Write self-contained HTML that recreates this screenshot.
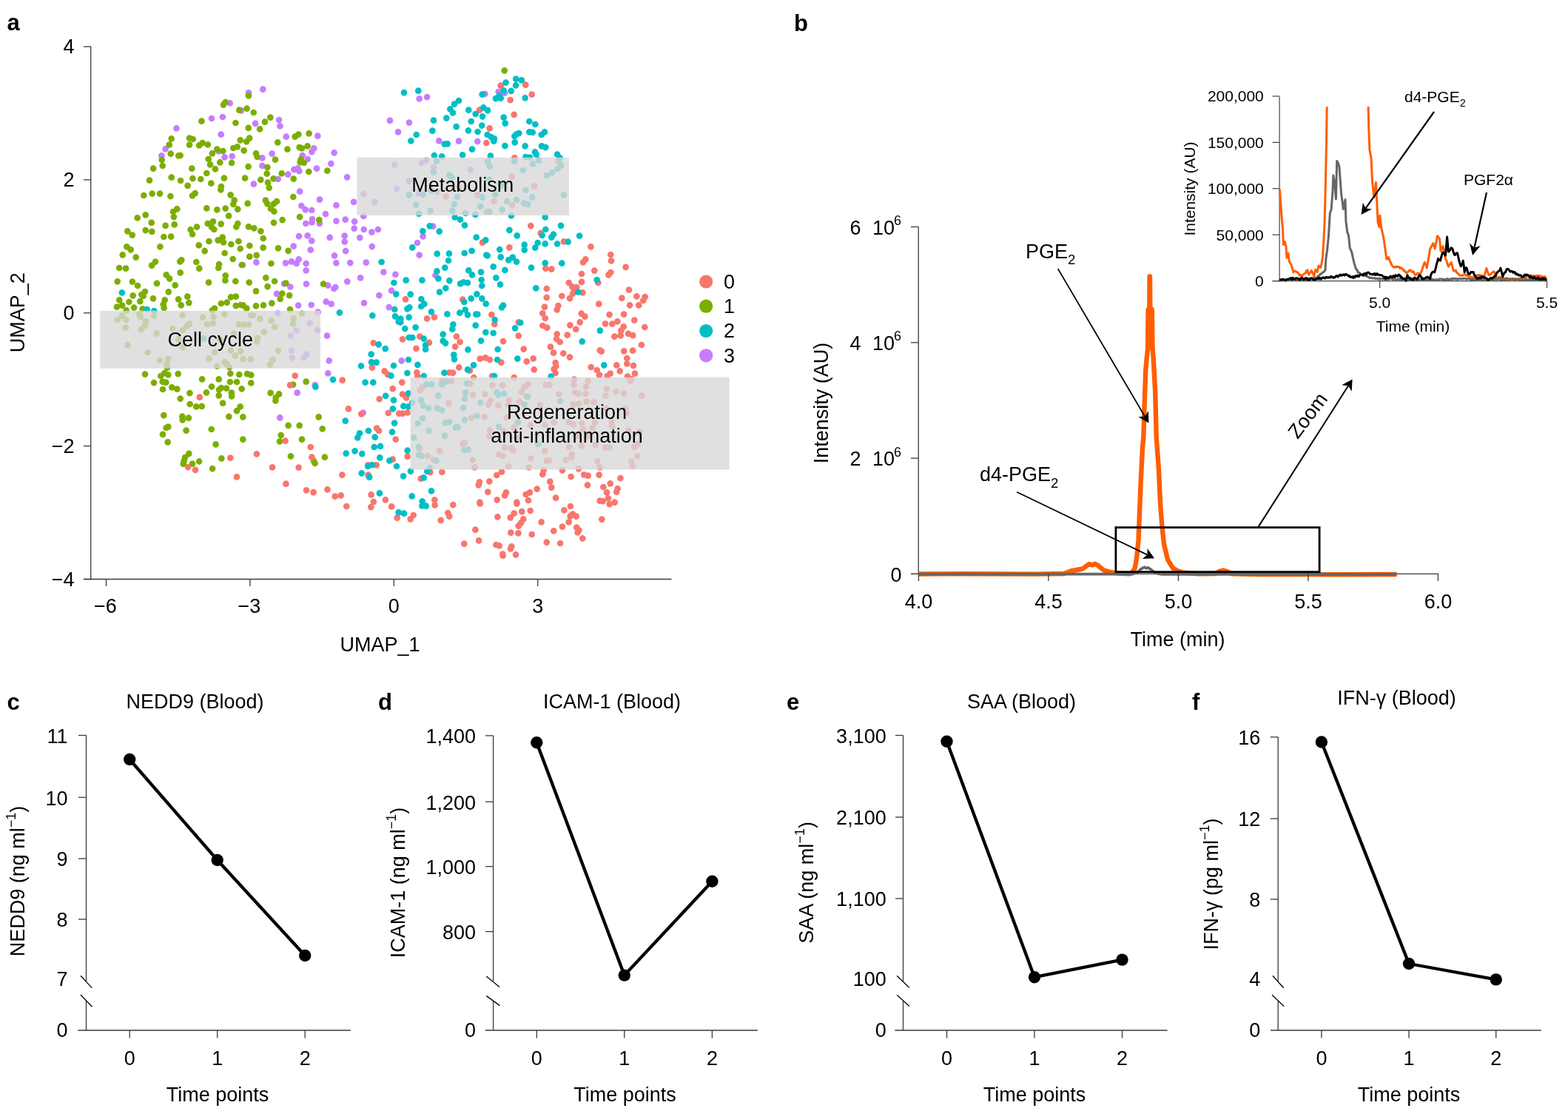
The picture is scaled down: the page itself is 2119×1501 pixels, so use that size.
<!DOCTYPE html>
<html><head><meta charset="utf-8"><title>Figure</title>
<style>html,body{margin:0;padding:0;background:#fff;} svg{display:block;}</style>
</head><body>
<svg width="2119" height="1501" viewBox="0 0 2119 1501" font-family="'Liberation Sans', Arial, Helvetica, sans-serif">
<rect x="0" y="0" width="2119" height="1501" fill="#fff"/>
<text x="9.5" y="41.0" font-size="31" text-anchor="start" font-weight="bold" fill="#000" >a</text>
<path d="M328.0 358.0h0M336.0 125.3h0M310.7 139.3h0M326.0 149.3h0M286.0 160.0h0M300.9 158.0h0M238.4 173.3h0M298.7 181.7h0M223.6 201.3h0M218.4 210.4h0M295.6 204.3h0M303.6 212.4h0M313.6 211.1h0M412.7 283.3h0M421.3 284.0h0M440.0 289.1h0M422.0 296.0h0M421.6 300.3h0M413.3 302.0h0M432.0 302.0h0M454.4 298.7h0M466.7 296.7h0M479.1 299.3h0M491.3 292.0h0M478.7 308.7h0M491.7 310.0h0M502.4 313.7h0M510.9 310.0h0M404.0 319.1h0M415.6 318.4h0M421.3 325.3h0M396.7 332.7h0M419.7 337.7h0M445.7 320.9h0M465.6 318.7h0M465.7 326.7h0M467.1 339.1h0M486.3 321.1h0M502.7 333.1h0M452.0 345.3h0M346.4 354.4h0M386.0 355.3h0M394.0 353.3h0M400.7 356.0h0M403.7 350.4h0M413.6 356.0h0M413.6 365.3h0M454.4 355.3h0M473.3 355.1h0M494.7 354.7h0M518.4 367.7h0M534.4 370.9h0M529.1 392.7h0M512.4 399.1h0M487.1 375.3h0M469.3 380.3h0M384.0 383.3h0M392.3 387.5h0M414.0 383.6h0M443.3 385.7h0M451.3 390.0h0M453.3 388.0h0M374.0 396.9h0M440.7 407.7h0M447.7 410.7h0M492.0 409.3h0M525.7 415.1h0M403.1 412.7h0M420.7 412.0h0M429.7 421.6h0M442.0 453.7h0M375.3 423.3h0M418.7 436.7h0M400.7 446.4h0M393.1 453.6h0M429.1 446.0h0M394.0 474.0h0M414.0 478.7h0M394.7 483.3h0M410.7 483.3h0M444.7 487.3h0M443.3 504.4h0M425.7 520.0h0M401.6 530.7h0M490.7 557.7h0M378.3 564.4h0M355.3 120.7h0M377.1 162.0h0M378.4 170.4h0M345.1 166.9h0M386.7 184.7h0M429.3 183.7h0M424.3 200.4h0M421.3 205.1h0M451.6 206.3h0M354.4 213.3h0M367.6 207.6h0M408.7 210.0h0M415.7 215.1h0M447.3 221.1h0M354.4 224.0h0M397.3 229.1h0M402.4 227.3h0M404.3 231.1h0M428.0 227.7h0M389.3 235.7h0M375.7 242.0h0M342.9 248.7h0M469.1 239.3h0M526.9 162.9h0M538.0 178.4h0M533.3 222.4h0M536.0 254.9h0M491.3 262.4h0M506.7 272.9h0M405.1 258.7h0M432.0 269.7h0M478.0 272.9h0M454.4 277.3h0M407.3 278.0h0M585.1 305.6h0M571.6 319.3h0M564.0 328.0h0M566.7 344.7h0M588.4 372.0h0M542.7 487.3h0M566.7 133.3h0M577.1 131.1h0M552.9 165.6h0M645.3 191.1h0M620.0 190.7h0M593.3 190.4h0M673.7 124.0h0M682.0 125.7h0M655.3 126.9h0M570.0 220.0h0M576.0 216.7h0M586.0 226.0h0M635.7 229.1h0M552.7 244.3h0M566.0 261.3h0M590.7 259.3h0" stroke="#C77CFF" stroke-width="8.7" stroke-linecap="round" fill="none"/>
<path d="M234.0 286.0h0M239.3 282.4h0M234.9 293.1h0M279.3 281.3h0M293.3 283.3h0M304.7 281.6h0M321.3 282.7h0M309.1 291.7h0M185.7 294.3h0M196.7 290.3h0M204.7 300.9h0M223.6 304.9h0M235.7 303.3h0M172.3 312.4h0M178.7 317.7h0M196.7 311.1h0M205.3 312.9h0M221.3 320.0h0M231.1 319.6h0M257.6 310.4h0M260.0 316.4h0M266.0 306.7h0M280.7 302.0h0M288.0 299.3h0M286.0 306.7h0M289.3 310.0h0M298.7 302.7h0M321.3 302.0h0M319.3 306.4h0M336.0 306.3h0M171.3 333.3h0M176.7 337.3h0M216.4 333.3h0M165.7 344.4h0M183.7 347.6h0M268.7 331.3h0M276.7 339.1h0M282.4 326.0h0M294.7 324.7h0M300.7 320.7h0M302.0 327.3h0M312.3 330.0h0M322.4 326.0h0M324.7 336.0h0M337.3 332.0h0M303.7 342.0h0M314.7 350.0h0M337.3 346.7h0M205.1 358.7h0M210.0 353.6h0M161.1 362.0h0M170.0 362.7h0M243.3 353.3h0M245.3 351.3h0M265.3 354.0h0M269.3 362.7h0M296.0 357.1h0M295.3 362.0h0M326.7 358.0h0M224.7 371.3h0M229.1 376.4h0M243.7 368.4h0M304.7 372.3h0M304.4 378.9h0M318.3 380.0h0M282.0 381.6h0M336.7 381.6h0M158.7 380.3h0M178.9 380.7h0M186.0 386.0h0M212.0 382.9h0M236.7 385.3h0M227.7 394.3h0M196.0 394.0h0M191.3 398.0h0M179.7 399.3h0M161.3 405.3h0M165.1 412.7h0M158.0 414.7h0M174.4 408.0h0M189.3 407.1h0M193.7 400.0h0M206.9 403.3h0M222.7 405.3h0M220.7 411.3h0M221.6 416.0h0M241.1 404.4h0M244.7 412.3h0M253.3 400.7h0M255.3 409.1h0M181.1 415.7h0M192.7 417.3h0M170.7 419.3h0M290.0 416.7h0M298.9 410.0h0M306.7 408.7h0M312.0 401.3h0M318.7 400.7h0M318.7 413.1h0M325.3 412.0h0M328.7 412.7h0M333.3 416.7h0M286.7 419.3h0M158.7 432.0h0M164.7 426.7h0M170.4 432.0h0M170.0 442.7h0M188.0 424.7h0M190.0 428.0h0M197.3 434.0h0M196.0 440.0h0M190.7 445.3h0M208.0 426.7h0M211.7 450.7h0M246.7 426.0h0M233.3 444.0h0M246.7 446.0h0M252.0 441.3h0M256.0 437.3h0M274.0 428.7h0M280.0 438.0h0M288.0 436.7h0M288.7 428.0h0M303.3 424.7h0M339.3 426.0h0M322.7 438.0h0M329.3 438.7h0M336.0 438.7h0M316.0 450.7h0M172.7 466.4h0M199.7 476.0h0M246.7 469.3h0M241.3 458.7h0M290.0 476.0h0M312.0 473.3h0M325.3 474.7h0M297.3 458.7h0M216.0 486.9h0M227.3 485.1h0M225.3 492.0h0M226.0 496.7h0M282.4 484.7h0M293.3 494.7h0M303.7 489.3h0M306.7 492.0h0M310.0 496.0h0M318.0 480.7h0M328.4 485.1h0M338.7 485.3h0M196.0 505.7h0M217.3 508.0h0M222.4 504.0h0M227.3 506.4h0M240.7 505.1h0M208.0 517.1h0M219.7 515.7h0M224.3 516.7h0M220.0 526.0h0M232.3 523.3h0M239.3 525.6h0M256.4 531.1h0M243.7 538.7h0M273.1 512.4h0M278.9 530.4h0M286.0 522.4h0M295.7 512.4h0M296.0 526.7h0M298.9 524.0h0M306.0 524.7h0M295.7 534.4h0M312.9 530.7h0M313.1 535.3h0M311.3 504.7h0M310.9 516.0h0M320.0 516.0h0M323.3 506.0h0M334.0 505.1h0M339.3 506.7h0M339.3 517.3h0M326.7 525.3h0M301.1 544.7h0M256.7 546.0h0M265.1 549.3h0M272.7 548.9h0M324.7 549.3h0M320.0 555.1h0M309.3 562.9h0M328.3 563.3h0M221.3 561.1h0M246.4 562.7h0M254.9 564.7h0M246.7 567.3h0M227.3 576.7h0M224.7 578.0h0M251.6 581.7h0M285.7 580.0h0M220.0 586.9h0M226.7 597.3h0M291.6 600.3h0M328.3 593.6h0M255.3 612.9h0M250.0 618.0h0M248.7 622.7h0M247.7 626.7h0M260.0 626.7h0M269.1 623.3h0M299.3 619.3h0M287.1 633.1h0M336.0 129.3h0M304.7 138.0h0M302.0 141.6h0M323.3 148.7h0M333.6 146.7h0M272.4 163.7h0M318.4 166.0h0M335.7 172.9h0M231.7 187.3h0M256.0 186.7h0M260.7 188.0h0M256.0 195.7h0M228.7 195.7h0M269.1 196.3h0M273.7 193.1h0M280.9 195.3h0M324.7 189.3h0M333.1 191.3h0M337.1 186.7h0M293.3 201.6h0M301.3 204.0h0M286.9 207.3h0M315.3 200.0h0M320.7 198.4h0M329.6 203.3h0M230.7 207.7h0M241.3 210.4h0M243.7 210.0h0M218.7 216.0h0M219.7 224.0h0M207.1 227.7h0M281.7 214.9h0M284.0 222.4h0M297.3 219.3h0M313.1 220.0h0M290.9 228.4h0M259.3 227.7h0M335.6 225.1h0M279.3 234.0h0M202.0 243.7h0M231.7 239.7h0M244.0 244.0h0M260.4 241.1h0M271.3 242.0h0M253.6 250.9h0M285.3 247.7h0M302.9 240.7h0M331.1 240.7h0M298.9 252.0h0M298.4 256.3h0M194.3 264.0h0M205.7 261.6h0M216.0 261.6h0M230.4 265.1h0M263.7 261.1h0M260.0 264.3h0M311.6 263.3h0M316.7 270.7h0M315.3 276.0h0M334.7 274.9h0M366.0 282.0h0M370.4 285.6h0M405.1 293.1h0M381.6 297.1h0M370.0 300.9h0M431.3 297.1h0M343.3 308.4h0M352.4 312.4h0M355.7 322.0h0M355.6 334.7h0M376.0 335.3h0M389.6 338.9h0M346.7 344.9h0M366.4 356.0h0M359.3 375.3h0M371.1 380.0h0M361.6 387.1h0M346.0 393.3h0M386.4 382.7h0M437.1 383.7h0M381.3 396.7h0M378.7 404.0h0M391.1 399.1h0M346.0 413.3h0M356.0 412.4h0M367.3 409.6h0M392.0 418.0h0M342.0 426.0h0M351.3 430.7h0M366.4 433.1h0M371.3 441.7h0M396.7 430.0h0M396.0 437.3h0M408.0 423.7h0M356.7 448.7h0M348.0 456.7h0M347.3 461.3h0M376.0 474.0h0M368.7 486.0h0M364.7 492.7h0M396.0 519.6h0M413.7 515.7h0M365.6 530.9h0M377.1 532.4h0M372.7 537.3h0M372.4 541.3h0M430.7 563.3h0M389.6 574.9h0M404.7 574.9h0M435.7 579.3h0M379.7 588.0h0M378.0 596.3h0M408.0 593.6h0M392.9 616.4h0M424.0 622.7h0M425.6 626.0h0M438.9 617.7h0M342.7 152.0h0M365.3 158.7h0M358.0 164.7h0M351.1 174.4h0M398.7 184.7h0M403.3 181.6h0M417.6 180.3h0M375.3 192.4h0M388.4 201.6h0M404.7 199.1h0M408.0 200.3h0M415.6 197.3h0M346.0 207.3h0M347.7 212.0h0M372.0 215.7h0M406.7 215.3h0M405.6 219.1h0M410.7 220.0h0M361.3 226.0h0M360.7 234.7h0M417.3 232.0h0M442.3 230.7h0M380.7 234.4h0M352.3 242.9h0M369.6 241.3h0M396.7 241.6h0M362.0 246.7h0M363.7 253.6h0M396.3 266.0h0M358.9 270.7h0M361.3 275.3h0M374.0 272.0h0M370.0 275.3h0M681.7 95.3h0" stroke="#7CAE00" stroke-width="8.7" stroke-linecap="round" fill="none"/>
<path d="M269.7 536.7h0M311.3 618.7h0M254.0 631.1h0M264.0 634.9h0M320.0 644.4h0M504.7 463.3h0M502.9 496.7h0M519.7 501.3h0M524.0 506.0h0M462.7 513.7h0M530.7 525.1h0M512.7 539.1h0M524.7 558.0h0M539.3 558.7h0M398.7 507.7h0M392.0 520.4h0M470.9 552.4h0M488.3 559.3h0M509.1 578.7h0M512.0 582.0h0M534.7 593.6h0M385.6 595.6h0M419.7 604.0h0M346.9 613.3h0M421.3 617.7h0M530.7 620.7h0M497.3 628.4h0M508.7 628.4h0M497.6 641.6h0M462.4 641.6h0M368.0 631.3h0M403.6 631.6h0M386.4 653.7h0M414.0 662.3h0M423.6 665.1h0M442.4 661.3h0M452.7 670.7h0M460.7 669.3h0M501.6 668.4h0M504.9 678.0h0M520.9 675.3h0M468.3 684.0h0M501.3 685.1h0M529.1 684.4h0M536.7 699.6h0M657.3 286.0h0M652.0 327.7h0M717.3 305.1h0M688.4 334.3h0M730.7 314.9h0M737.3 362.7h0M738.7 390.0h0M738.7 402.0h0M548.0 404.3h0M577.1 430.3h0M586.9 428.7h0M625.3 404.7h0M664.4 425.1h0M668.3 438.0h0M736.0 414.7h0M733.3 423.3h0M736.7 430.0h0M733.3 440.0h0M739.3 442.7h0M700.7 435.3h0M700.7 453.7h0M680.0 461.1h0M707.7 471.6h0M616.9 454.7h0M621.7 462.0h0M615.1 468.4h0M544.0 458.4h0M567.3 454.7h0M580.0 462.9h0M562.4 470.9h0M563.3 503.3h0M564.3 508.0h0M607.3 503.3h0M612.0 503.7h0M620.3 496.3h0M634.9 500.7h0M648.7 484.7h0M656.0 483.3h0M662.0 486.0h0M677.3 489.6h0M711.7 488.3h0M720.7 484.4h0M721.7 499.3h0M640.3 510.0h0M665.1 508.0h0M694.7 510.0h0M543.3 516.7h0M544.0 532.7h0M549.1 537.3h0M544.0 558.7h0M550.7 557.3h0M550.7 616.7h0M581.3 638.0h0M568.7 646.7h0M597.3 637.7h0M587.3 675.3h0M671.3 642.0h0M678.0 637.3h0M661.3 650.4h0M648.0 651.3h0M646.7 655.3h0M659.3 664.7h0M684.0 665.3h0M682.0 669.3h0M671.7 675.3h0M648.4 678.7h0M698.4 678.7h0M710.7 668.0h0M716.0 665.3h0M725.7 660.7h0M714.0 676.0h0M733.3 640.7h0M734.7 635.3h0M568.0 527.3h0M570.7 523.3h0M597.3 514.7h0M610.0 514.9h0M635.3 518.7h0M606.3 544.9h0M639.3 533.7h0M655.3 532.7h0M665.3 520.7h0M679.3 520.7h0M714.0 519.3h0M708.7 522.7h0M704.7 529.3h0M711.3 535.3h0M662.7 541.3h0M660.0 546.7h0M673.3 548.0h0M688.0 540.7h0M686.7 546.7h0M702.0 542.7h0M730.0 547.3h0M737.3 520.0h0M636.9 564.3h0M654.7 563.3h0M684.7 564.0h0M717.3 574.4h0M694.7 577.3h0M662.0 581.3h0M661.3 588.7h0M680.7 582.4h0M698.0 591.3h0M736.7 574.0h0M736.0 609.3h0M567.3 606.0h0M578.4 616.0h0M586.0 621.1h0M594.0 609.3h0M628.0 598.7h0M625.3 599.3h0M682.0 604.7h0M690.7 605.3h0M694.0 608.7h0M674.0 614.0h0M679.3 616.0h0M638.7 621.3h0M641.3 631.3h0M687.3 630.0h0M717.3 619.3h0M714.7 631.3h0M738.7 622.7h0M587.6 682.4h0M558.7 696.0h0M554.7 701.3h0M595.7 702.9h0M605.3 693.1h0M607.3 697.6h0M612.3 682.1h0M648.7 680.4h0M698.4 680.3h0M705.3 691.1h0M716.7 690.0h0M694.7 693.6h0M689.7 699.3h0M672.4 698.4h0M707.3 701.3h0M704.0 706.7h0M700.7 710.7h0M731.6 705.3h0M642.4 715.7h0M690.4 719.7h0M700.4 720.4h0M718.7 722.0h0M647.1 730.4h0M627.3 734.7h0M670.4 736.0h0M674.7 737.3h0M691.3 738.3h0M690.0 741.3h0M679.3 748.7h0M679.6 750.7h0M697.1 749.3h0M738.7 732.7h0M648.0 148.7h0M661.6 173.3h0M657.3 193.1h0M695.3 213.3h0M694.7 154.9h0M718.7 127.7h0M710.3 114.7h0M676.7 115.7h0M689.6 135.1h0M691.7 238.9h0M722.0 251.7h0M602.7 265.3h0M645.3 263.3h0M668.0 272.0h0M692.0 277.3h0M620.0 252.0h0M762.0 326.3h0M798.4 333.3h0M825.3 344.0h0M826.0 352.4h0M791.3 350.4h0M788.0 354.3h0M745.3 363.7h0M845.6 360.9h0M803.3 365.6h0M786.0 370.0h0M825.3 368.0h0M822.4 371.3h0M808.3 382.0h0M786.0 380.9h0M768.7 382.0h0M773.3 387.3h0M779.3 388.0h0M776.0 392.0h0M774.0 396.7h0M787.3 395.3h0M759.3 400.0h0M770.0 403.1h0M850.0 391.7h0M840.4 402.7h0M860.4 400.3h0M871.7 401.1h0M869.3 406.0h0M863.3 412.4h0M851.1 412.4h0M809.3 410.7h0M754.4 413.1h0M752.7 418.4h0M785.7 423.7h0M790.4 427.7h0M783.7 435.3h0M823.6 425.1h0M843.1 424.7h0M857.3 432.7h0M770.4 439.3h0M778.3 444.9h0M818.0 437.3h0M827.3 437.6h0M834.4 434.4h0M842.7 441.3h0M839.3 446.7h0M871.3 442.0h0M752.7 451.3h0M766.7 452.7h0M752.0 458.0h0M756.7 462.0h0M830.4 454.7h0M838.7 453.3h0M849.1 450.9h0M855.3 453.1h0M866.9 466.0h0M744.0 468.7h0M748.0 476.7h0M761.3 477.3h0M810.7 473.3h0M812.7 474.7h0M843.3 474.4h0M855.1 473.6h0M770.0 482.7h0M847.3 484.0h0M847.3 491.3h0M856.0 494.0h0M750.7 490.0h0M751.3 494.7h0M748.7 498.7h0M750.7 504.0h0M798.7 496.0h0M806.7 500.0h0M810.0 506.7h0M824.7 504.7h0M820.7 508.0h0M833.3 493.3h0M837.7 501.3h0M858.0 504.7h0M848.0 508.7h0M760.0 635.3h0M771.6 644.0h0M789.3 641.3h0M794.7 642.7h0M809.6 641.6h0M782.0 633.3h0M838.4 646.0h0M743.3 650.7h0M745.3 658.7h0M794.0 655.3h0M824.7 653.3h0M815.3 658.0h0M834.7 660.0h0M833.3 664.7h0M820.0 665.3h0M822.0 673.3h0M810.7 676.7h0M830.7 678.7h0M751.1 672.7h0M742.7 520.0h0M776.0 512.7h0M775.3 520.0h0M794.7 514.7h0M792.0 522.7h0M777.3 530.0h0M782.0 532.0h0M791.3 532.0h0M755.3 532.7h0M820.0 525.3h0M818.4 534.7h0M832.4 529.1h0M843.1 531.6h0M867.3 534.7h0M852.0 514.7h0M853.3 512.0h0M792.7 542.7h0M802.4 543.3h0M774.7 546.7h0M782.0 545.3h0M845.3 552.0h0M846.7 558.0h0M819.3 552.0h0M748.7 570.7h0M768.7 570.7h0M774.7 573.3h0M786.0 572.0h0M804.0 570.7h0M800.7 578.0h0M826.7 570.0h0M827.3 576.0h0M788.0 580.0h0M849.3 581.3h0M864.0 583.3h0M769.3 604.0h0M786.0 602.7h0M804.7 601.3h0M818.0 604.7h0M824.0 604.7h0M857.3 604.0h0M862.0 600.0h0M772.7 614.0h0M772.0 618.0h0M764.4 621.3h0M807.3 623.3h0M810.7 631.3h0M853.3 624.0h0M854.7 629.3h0M861.3 616.0h0M742.0 622.0h0M793.3 589.3h0M778.7 589.3h0M823.7 681.1h0M814.7 677.1h0M770.9 684.0h0M762.4 689.3h0M774.0 694.7h0M770.7 697.3h0M778.7 697.7h0M768.7 705.3h0M760.0 711.7h0M748.3 717.3h0M779.3 712.7h0M782.4 716.3h0M780.7 719.3h0M787.3 727.3h0M813.3 701.6h0M757.1 734.0h0M754.4 217.6h0" stroke="#F8766D" stroke-width="8.7" stroke-linecap="round" fill="none"/>
<path d="M164.9 395.3h0M198.7 418.0h0M208.3 420.0h0M275.3 457.3h0M515.6 354.0h0M532.4 382.0h0M535.3 397.3h0M533.3 418.0h0M534.0 427.3h0M538.7 434.7h0M503.3 426.3h0M458.9 422.3h0M511.7 465.3h0M520.7 471.1h0M501.7 478.7h0M488.0 494.4h0M502.0 489.3h0M508.7 489.6h0M532.0 494.0h0M528.4 507.7h0M450.0 512.9h0M493.6 516.7h0M504.3 516.7h0M521.1 534.9h0M532.0 540.7h0M530.9 552.4h0M426.4 522.7h0M466.7 568.7h0M486.0 585.3h0M483.3 591.3h0M498.0 582.0h0M506.7 590.7h0M533.1 571.6h0M530.0 583.7h0M467.7 612.7h0M479.6 609.3h0M489.3 613.1h0M505.7 604.0h0M514.0 602.9h0M513.3 618.3h0M526.4 622.3h0M536.0 630.0h0M497.3 630.0h0M502.9 628.0h0M488.7 639.3h0M499.1 644.7h0M512.9 666.4h0M538.7 692.4h0M566.0 288.7h0M581.7 284.7h0M611.3 284.7h0M629.1 288.0h0M642.4 290.0h0M661.3 286.0h0M678.7 283.3h0M690.9 291.3h0M736.7 293.3h0M614.7 293.3h0M622.0 296.7h0M628.0 304.4h0M580.7 305.3h0M571.3 312.4h0M593.7 312.7h0M557.3 334.3h0M590.7 342.9h0M606.9 342.7h0M606.0 352.0h0M601.3 361.6h0M590.4 366.4h0M592.4 376.4h0M607.3 379.1h0M570.4 378.7h0M548.7 378.7h0M627.7 342.0h0M637.6 338.9h0M643.7 320.7h0M656.3 324.4h0M657.3 344.7h0M658.7 345.3h0M675.3 337.1h0M688.4 310.9h0M698.7 318.4h0M708.7 330.7h0M708.7 337.6h0M726.7 328.0h0M723.3 334.7h0M732.7 318.0h0M737.3 310.0h0M736.7 329.3h0M676.7 347.3h0M687.3 351.3h0M692.7 347.7h0M698.0 353.7h0M666.7 360.3h0M682.4 364.9h0M718.0 361.6h0M736.7 355.3h0M633.3 365.3h0M638.0 371.3h0M650.0 367.6h0M650.7 378.0h0M651.3 386.0h0M670.4 375.3h0M676.0 384.3h0M724.3 389.3h0M622.0 383.3h0M626.4 381.3h0M632.0 382.0h0M602.3 389.3h0M594.0 394.7h0M554.7 397.7h0M569.3 404.0h0M573.3 410.7h0M569.1 414.0h0M553.3 415.3h0M550.4 417.3h0M582.9 421.3h0M552.7 428.7h0M541.3 430.7h0M541.3 435.3h0M547.3 444.0h0M561.6 442.3h0M604.4 424.4h0M627.3 408.0h0M636.7 403.3h0M644.4 397.3h0M651.3 403.3h0M656.7 410.4h0M680.0 412.7h0M678.0 415.3h0M621.3 422.7h0M628.7 418.7h0M632.0 425.3h0M643.3 424.7h0M645.3 424.7h0M668.7 432.0h0M703.3 436.0h0M696.0 443.3h0M612.4 438.4h0M611.3 444.7h0M642.7 439.7h0M656.4 449.1h0M666.7 450.0h0M672.7 472.0h0M650.0 460.4h0M632.4 472.3h0M598.7 451.6h0M598.7 460.7h0M602.0 463.6h0M552.7 456.0h0M557.3 456.0h0M572.7 457.7h0M575.1 466.3h0M575.1 472.0h0M613.3 479.3h0M552.0 486.0h0M564.4 492.9h0M550.4 504.0h0M572.7 508.0h0M614.0 485.3h0M600.4 503.7h0M640.0 493.3h0M632.0 499.3h0M672.0 486.0h0M699.3 484.7h0M668.0 508.0h0M552.0 531.3h0M545.3 548.7h0M552.0 549.3h0M550.7 608.7h0M554.9 636.7h0M545.1 643.3h0M577.3 636.7h0M572.7 645.3h0M582.9 663.3h0M556.7 670.4h0M570.7 677.3h0M576.0 519.3h0M583.3 519.1h0M597.3 519.3h0M603.3 515.3h0M630.7 518.0h0M592.3 534.4h0M569.1 540.7h0M572.0 548.0h0M579.3 551.3h0M557.1 544.0h0M590.7 551.3h0M597.3 554.4h0M629.3 530.4h0M628.0 538.7h0M626.0 551.1h0M649.3 544.0h0M671.3 530.0h0M673.3 533.3h0M681.3 532.0h0M713.3 536.0h0M708.7 546.7h0M571.3 565.1h0M564.7 572.0h0M601.7 571.1h0M607.3 570.0h0M615.7 577.3h0M618.7 577.1h0M579.6 582.0h0M601.1 588.7h0M559.3 591.1h0M628.0 567.3h0M644.7 562.0h0M700.0 570.7h0M674.0 576.7h0M727.3 600.0h0M566.0 604.0h0M566.0 614.7h0M570.0 616.0h0M589.7 622.4h0M627.3 608.0h0M632.7 607.3h0M580.7 632.0h0M570.4 683.3h0M575.7 683.7h0M546.0 693.7h0M546.0 125.1h0M565.3 122.7h0M620.0 136.0h0M614.0 140.7h0M608.3 147.3h0M612.0 152.4h0M603.3 159.6h0M586.0 162.7h0M633.3 148.7h0M642.7 154.0h0M653.3 145.3h0M659.1 149.1h0M652.0 157.3h0M636.7 164.0h0M616.7 171.1h0M584.4 176.7h0M562.7 182.0h0M555.3 190.4h0M632.9 176.4h0M645.6 178.0h0M651.3 169.6h0M658.7 182.0h0M664.0 185.3h0M668.0 187.3h0M667.3 190.7h0M600.7 194.7h0M604.7 194.4h0M638.0 201.6h0M682.4 197.1h0M695.7 192.4h0M695.3 184.0h0M698.0 181.3h0M701.3 180.0h0M709.7 197.3h0M715.3 178.4h0M719.7 178.9h0M715.3 164.0h0M723.3 168.0h0M731.7 182.0h0M736.0 178.4h0M732.0 197.3h0M737.3 199.1h0M722.9 205.3h0M724.7 208.7h0M710.4 212.0h0M716.0 212.7h0M662.9 210.7h0M625.1 209.3h0M597.1 211.3h0M586.9 210.0h0M680.7 158.7h0M682.7 166.7h0M709.7 132.4h0M704.9 108.4h0M697.3 106.7h0M697.1 115.3h0M690.7 122.9h0M683.6 111.6h0M680.7 122.4h0M674.7 129.3h0M670.0 133.1h0M676.7 132.7h0M651.7 127.7h0M590.0 218.0h0M586.0 232.7h0M661.6 224.7h0M659.1 218.7h0M695.1 218.0h0M706.7 230.0h0M720.0 221.6h0M728.0 216.7h0M738.7 237.1h0M607.3 236.7h0M610.7 240.0h0M661.3 242.7h0M710.4 256.7h0M719.3 266.3h0M677.3 250.7h0M552.7 263.3h0M572.0 262.7h0M582.7 257.3h0M618.0 266.0h0M652.0 266.7h0M669.3 262.7h0M685.3 272.0h0M698.0 270.0h0M708.0 274.7h0M713.3 276.0h0M562.0 276.7h0M614.0 276.0h0M649.3 278.7h0M758.0 304.9h0M748.0 316.7h0M745.3 320.7h0M753.1 329.3h0M767.6 326.7h0M783.1 318.7h0M759.3 355.7h0M806.7 378.0h0M781.3 394.7h0M810.9 446.7h0M786.7 461.3h0M744.7 508.7h0M816.3 493.3h0M757.3 542.0h0M753.1 208.7h0M756.7 213.3h0M758.0 223.7h0M753.3 228.0h0M746.0 233.3h0M762.0 263.3h0" stroke="#00BFC4" stroke-width="8.7" stroke-linecap="round" fill="none"/>
<rect x="482.4" y="212.8" width="286.5" height="78.2" fill="#D8D8D8" fill-opacity="0.8"/>
<rect x="135.3" y="419.8" width="297.7" height="78.0" fill="#D8D8D8" fill-opacity="0.8"/>
<rect x="554.5" y="509.7" width="431.2" height="124.8" fill="#D8D8D8" fill-opacity="0.8"/>
<text x="625.3" y="258.7" font-size="27" text-anchor="middle">Metabolism</text>
<text x="284.2" y="468.0" font-size="27" text-anchor="middle">Cell cycle</text>
<text x="766" y="566" font-size="27" text-anchor="middle">Regeneration</text>
<text x="766" y="598" font-size="27" text-anchor="middle">anti-inflammation</text>
<line x1="122.7" y1="62.5" x2="122.7" y2="783.2" stroke="#3a3a3a" stroke-width="1.3" />
<line x1="113.0" y1="782.5" x2="907.5" y2="782.5" stroke="#3a3a3a" stroke-width="1.3" />
<line x1="113.0" y1="63.0" x2="122.7" y2="63.0" stroke="#3a3a3a" stroke-width="1.3" />
<text x="100.5" y="72.3" font-size="27" text-anchor="end" font-weight="normal" fill="#000" >4</text>
<line x1="113.0" y1="242.9" x2="122.7" y2="242.9" stroke="#3a3a3a" stroke-width="1.3" />
<text x="100.5" y="252.2" font-size="27" text-anchor="end" font-weight="normal" fill="#000" >2</text>
<line x1="113.0" y1="422.8" x2="122.7" y2="422.8" stroke="#3a3a3a" stroke-width="1.3" />
<text x="100.5" y="432.1" font-size="27" text-anchor="end" font-weight="normal" fill="#000" >0</text>
<line x1="113.0" y1="602.6" x2="122.7" y2="602.6" stroke="#3a3a3a" stroke-width="1.3" />
<text x="100.5" y="611.9" font-size="27" text-anchor="end" font-weight="normal" fill="#000" >−2</text>
<line x1="113.0" y1="782.5" x2="122.7" y2="782.5" stroke="#3a3a3a" stroke-width="1.3" />
<text x="100.5" y="791.8" font-size="27" text-anchor="end" font-weight="normal" fill="#000" >−4</text>
<line x1="143.5" y1="782.5" x2="143.5" y2="792.0" stroke="#3a3a3a" stroke-width="1.3" />
<text x="142.5" y="828.0" font-size="27" text-anchor="middle" font-weight="normal" fill="#000" >−6</text>
<line x1="337.9" y1="782.5" x2="337.9" y2="792.0" stroke="#3a3a3a" stroke-width="1.3" />
<text x="336.9" y="828.0" font-size="27" text-anchor="middle" font-weight="normal" fill="#000" >−3</text>
<line x1="532.3" y1="782.5" x2="532.3" y2="792.0" stroke="#3a3a3a" stroke-width="1.3" />
<text x="532.3" y="828.0" font-size="27" text-anchor="middle" font-weight="normal" fill="#000" >0</text>
<line x1="726.7" y1="782.5" x2="726.7" y2="792.0" stroke="#3a3a3a" stroke-width="1.3" />
<text x="726.7" y="828.0" font-size="27" text-anchor="middle" font-weight="normal" fill="#000" >3</text>
<text x="513.5" y="879.5" font-size="27" text-anchor="middle" font-weight="normal" fill="#000" >UMAP_1</text>
<text transform="translate(32.8,422.3) rotate(-90)" x="0" y="0" font-size="27" text-anchor="middle" >UMAP_2</text>
<circle cx="954.2" cy="380.5" r="9.1" fill="#F8766D"/>
<text x="978.0" y="389.8" font-size="27" text-anchor="start" font-weight="normal" fill="#000" >0</text>
<circle cx="954.2" cy="413.7" r="9.1" fill="#7CAE00"/>
<text x="978.0" y="423.0" font-size="27" text-anchor="start" font-weight="normal" fill="#000" >1</text>
<circle cx="954.2" cy="447" r="9.1" fill="#00BFC4"/>
<text x="978.0" y="456.3" font-size="27" text-anchor="start" font-weight="normal" fill="#000" >2</text>
<circle cx="954.2" cy="480.3" r="9.1" fill="#C77CFF"/>
<text x="978.0" y="489.6" font-size="27" text-anchor="start" font-weight="normal" fill="#000" >3</text>
<text x="1073.0" y="41.5" font-size="31" text-anchor="start" font-weight="bold" fill="#000" >b</text>
<line x1="1241.2" y1="306.5" x2="1241.2" y2="776.0" stroke="#3a3a3a" stroke-width="1.3" />
<line x1="1231.0" y1="775.4" x2="1944.0" y2="775.4" stroke="#3a3a3a" stroke-width="1.3" />
<path d="M1241.4 775.5 L1300.0 775.3 L1400.0 775.6 L1438.0 775.0 L1447.0 771.5 L1455.0 770.0 L1463.0 768.5 L1469.0 764.0 L1472.0 762.0 L1476.0 763.5 L1480.0 761.8 L1484.0 764.0 L1488.0 767.5 L1492.0 770.5 L1500.0 772.8 L1512.0 774.6 L1526.0 775.3 L1530.0 773.5 L1533.5 768.0 L1536.0 755.0 L1538.5 730.0 L1541.5 655.0 L1544.0 605.0 L1545.4 590.0 L1547.2 530.0 L1548.3 500.0 L1549.9 482.0 L1551.1 471.0 L1551.6 418.0 L1553.3 416.0 L1553.6 373.5 L1554.0 373.5 L1554.3 416.0 L1556.8 418.0 L1557.5 471.0 L1558.6 482.0 L1559.6 500.0 L1561.2 530.0 L1562.7 590.0 L1564.5 615.0 L1566.0 635.0 L1568.0 680.0 L1570.5 712.0 L1573.0 735.0 L1578.0 756.0 L1585.0 767.5 L1592.0 771.5 L1600.0 773.8 L1620.0 775.2 L1642.0 775.0 L1648.0 771.8 L1653.0 770.5 L1658.0 772.0 L1665.0 775.3 L1700.0 776.0 L1800.0 776.2 L1887.5 776.0" fill="none" stroke="#FF5E00" stroke-width="6.4" stroke-linejoin="round" stroke-linecap="butt" />
<path d="M1241.4 775.7 L1530.0 775.7 L1537.0 773.5 L1541.0 769.5 L1544.0 767.5 L1547.0 766.3 L1549.0 767.8 L1551.5 766.8 L1554.0 768.5 L1558.0 771.5 L1562.0 774.5 L1570.0 775.8 L1887.5 775.9" fill="none" stroke="#666666" stroke-width="3.7" stroke-linejoin="round" stroke-linecap="butt" />
<rect x="1507.9" y="712.6" width="275.2" height="60.1" fill="none" stroke="#000" stroke-width="2.8"/>
<line x1="1700.0" y1="712.6" x2="1822.0" y2="521.3" stroke="#000" stroke-width="2.0"/><path d="M1827.6 512.4 L1826.7 528.8 L1822.0 521.3 L1813.2 520.2 Z" fill="#000"/>
<line x1="1429.7" y1="363.1" x2="1547.1" y2="562.6" stroke="#000" stroke-width="1.8"/><path d="M1552.4 571.6 L1538.5 563.3 L1547.1 562.6 L1551.9 555.4 Z" fill="#000"/>
<line x1="1374.2" y1="664.8" x2="1550.5" y2="749.6" stroke="#000" stroke-width="1.8"/><path d="M1560.0 754.2 L1543.8 755.1 L1550.5 749.6 L1550.6 741.0 Z" fill="#000"/>
<text x="1386" y="348.6" font-size="27">PGE<tspan font-size="18.5" dy="8.2">2</tspan></text>
<text x="1324" y="650.4" font-size="27">d4-PGE<tspan font-size="18.5" dy="8.2">2</tspan></text>
<text transform="translate(1774.4,566.8) rotate(-53)" font-size="27" text-anchor="middle">Zoom</text>
<line x1="1231.0" y1="306.5" x2="1241.2" y2="306.5" stroke="#3a3a3a" stroke-width="1.3" />
<line x1="1231.0" y1="462.8" x2="1241.2" y2="462.8" stroke="#3a3a3a" stroke-width="1.3" />
<line x1="1231.0" y1="619.1" x2="1241.2" y2="619.1" stroke="#3a3a3a" stroke-width="1.3" />
<line x1="1231.0" y1="775.4" x2="1241.2" y2="775.4" stroke="#3a3a3a" stroke-width="1.3" />
<text x="1163.5" y="316.7" font-size="27" text-anchor="end" font-weight="normal" fill="#000" >6</text>
<text x="1179.0" y="316.7" font-size="27" text-anchor="start" font-weight="normal" fill="#000" >10</text>
<text x="1208.0" y="304.0" font-size="18" text-anchor="start" font-weight="normal" fill="#000" >6</text>
<text x="1163.5" y="473.0" font-size="27" text-anchor="end" font-weight="normal" fill="#000" >4</text>
<text x="1179.0" y="473.0" font-size="27" text-anchor="start" font-weight="normal" fill="#000" >10</text>
<text x="1208.0" y="460.3" font-size="18" text-anchor="start" font-weight="normal" fill="#000" >6</text>
<text x="1163.5" y="629.3" font-size="27" text-anchor="end" font-weight="normal" fill="#000" >2</text>
<text x="1179.0" y="629.3" font-size="27" text-anchor="start" font-weight="normal" fill="#000" >10</text>
<text x="1208.0" y="616.6" font-size="18" text-anchor="start" font-weight="normal" fill="#000" >6</text>
<text x="1218.5" y="785.6" font-size="27" text-anchor="end" font-weight="normal" fill="#000" >0</text>
<line x1="1241.4" y1="775.4" x2="1241.4" y2="785.0" stroke="#3a3a3a" stroke-width="1.3" />
<text x="1241.4" y="822.0" font-size="27" text-anchor="middle" font-weight="normal" fill="#000" >4.0</text>
<line x1="1416.9" y1="775.4" x2="1416.9" y2="785.0" stroke="#3a3a3a" stroke-width="1.3" />
<text x="1416.9" y="822.0" font-size="27" text-anchor="middle" font-weight="normal" fill="#000" >4.5</text>
<line x1="1592.4" y1="775.4" x2="1592.4" y2="785.0" stroke="#3a3a3a" stroke-width="1.3" />
<text x="1592.4" y="822.0" font-size="27" text-anchor="middle" font-weight="normal" fill="#000" >5.0</text>
<line x1="1767.9" y1="775.4" x2="1767.9" y2="785.0" stroke="#3a3a3a" stroke-width="1.3" />
<text x="1767.9" y="822.0" font-size="27" text-anchor="middle" font-weight="normal" fill="#000" >5.5</text>
<line x1="1943.4" y1="775.4" x2="1943.4" y2="785.0" stroke="#3a3a3a" stroke-width="1.3" />
<text x="1943.4" y="822.0" font-size="27" text-anchor="middle" font-weight="normal" fill="#000" >6.0</text>
<text x="1591.5" y="872.5" font-size="27" text-anchor="middle" font-weight="normal" fill="#000" >Time (min)</text>
<text transform="translate(1119.0,544.6) rotate(-90)" x="0" y="0" font-size="27" text-anchor="middle" >Intensity (AU)</text>
<line x1="1729.1" y1="130.4" x2="1729.1" y2="380.2" stroke="#444" stroke-width="1.2"/>
<line x1="1719.5" y1="379.6" x2="2091" y2="379.6" stroke="#444" stroke-width="1.2"/>
<line x1="1719.5" y1="130.0" x2="1729.1" y2="130.0" stroke="#444" stroke-width="1.2"/>
<text x="1707.8" y="137.4" font-size="21" text-anchor="end">200,000</text>
<line x1="1719.5" y1="192.4" x2="1729.1" y2="192.4" stroke="#444" stroke-width="1.2"/>
<text x="1707.8" y="199.8" font-size="21" text-anchor="end">150,000</text>
<line x1="1719.5" y1="254.8" x2="1729.1" y2="254.8" stroke="#444" stroke-width="1.2"/>
<text x="1707.8" y="262.2" font-size="21" text-anchor="end">100,000</text>
<line x1="1719.5" y1="317.2" x2="1729.1" y2="317.2" stroke="#444" stroke-width="1.2"/>
<text x="1707.8" y="324.6" font-size="21" text-anchor="end">50,000</text>
<line x1="1719.5" y1="379.6" x2="1729.1" y2="379.6" stroke="#444" stroke-width="1.2"/>
<text x="1707.8" y="387.0" font-size="21" text-anchor="end">0</text>
<line x1="1864.6" y1="379.6" x2="1864.6" y2="389" stroke="#444" stroke-width="1.2"/>
<text x="1864.6" y="416" font-size="21" text-anchor="middle">5.0</text>
<line x1="2090.5" y1="379.6" x2="2090.5" y2="389" stroke="#444" stroke-width="1.2"/>
<text x="2090.5" y="416" font-size="21" text-anchor="middle">5.5</text>
<text x="1909.5" y="448" font-size="21" text-anchor="middle">Time (min)</text>
<text transform="translate(1615.3,255) rotate(-90)" font-size="21" text-anchor="middle">Intensity (AU)</text>
<text x="1898" y="137.5" font-size="21">d4-PGE<tspan font-size="14.5" dy="6.5">2</tspan></text>
<text x="1978" y="250" font-size="21">PGF2α</text>
<path d="M1729.4 255.4 L1731.2 281.2 L1732.3 295.7 L1733.5 307.9 L1734.4 330.5 L1736.2 326.5 L1738.0 333.1 L1738.9 348.4 L1740.7 342.1 L1742.5 353.7 L1743.8 355.6 L1745.2 358.4 L1746.6 363.1 L1747.9 368.0 L1749.0 366.3 L1750.2 366.3 L1751.3 366.9 L1752.4 367.3 L1753.6 368.1 L1754.8 369.2 L1756.0 371.9 L1757.3 371.3 L1758.7 374.3 L1759.8 372.3 L1761.0 371.1 L1762.1 370.1 L1763.2 369.6 L1764.4 368.8 L1765.6 365.8 L1766.8 364.8 L1768.6 371.2 L1769.8 369.1 L1771.0 368.0 L1772.2 365.5 L1773.4 367.6 L1774.6 370.0 L1775.8 373.1 L1777.6 364.5 L1778.9 365.6 L1780.2 367.5 L1782.0 359.1 L1783.3 359.7 L1784.7 361.6 L1786.1 355.1 L1787.4 347.9 L1788.7 326.9 L1790.1 299.9 L1791.4 246.7 L1792.5 192.4 L1793.2 144.3" fill="none" stroke="#FF5E00" stroke-width="3.0" stroke-linejoin="round" stroke-linecap="butt" />
<path d="M1849.1 143.9 L1849.8 175.0 L1850.9 201.9 L1852.0 207.9 L1853.1 214.0 L1854.5 245.2 L1855.8 256.7 L1857.0 266.6 L1858.2 257.0 L1859.4 246.4 L1860.3 264.0 L1862.1 300.6 L1863.9 306.6 L1864.8 291.3 L1866.6 307.2 L1867.8 312.6 L1869.0 317.7 L1870.2 323.9 L1872.0 336.7 L1873.8 350.1 L1875.2 349.6 L1876.5 347.5 L1877.7 351.2 L1878.9 353.5 L1880.1 356.6 L1881.4 358.9 L1882.8 360.6 L1883.9 360.8 L1885.0 361.3 L1886.2 360.0 L1887.3 360.9 L1888.7 360.5 L1890.0 360.5 L1891.0 360.8 L1892.0 362.6 L1893.0 361.7 L1894.0 362.3 L1895.0 363.0 L1896.2 365.2 L1897.5 364.9 L1898.7 366.8 L1899.9 368.3 L1901.0 368.4 L1902.1 367.6 L1903.2 367.1 L1904.3 365.4 L1905.4 365.0 L1906.5 365.4 L1907.6 367.0 L1908.7 367.6 L1909.8 366.5 L1910.8 368.2 L1911.8 370.0 L1912.8 371.7 L1913.8 371.2 L1914.8 370.4 L1915.8 368.7 L1917.2 369.7 L1918.7 372.0 L1919.7 369.3 L1920.7 367.0 L1921.7 365.1 L1922.9 361.3 L1924.0 357.6 L1925.2 354.5 L1926.2 357.0 L1927.2 358.1 L1928.2 362.1 L1929.3 355.7 L1930.4 349.6 L1931.5 343.3 L1932.6 336.3 L1933.6 334.6 L1934.6 332.3 L1935.6 331.6 L1936.6 328.7 L1937.8 332.2 L1939.1 335.9 L1940.2 330.2 L1941.4 324.9 L1942.5 318.7 L1943.5 319.9 L1944.5 321.6 L1945.5 322.8 L1947.0 339.2 L1948.0 336.2 L1949.0 335.6 L1950.0 332.7 L1951.1 337.4 L1952.3 343.3 L1953.4 349.1 L1954.4 351.6 L1955.4 353.6 L1956.4 357.5 L1957.4 360.3 L1958.4 358.2 L1959.4 357.3 L1960.4 355.5 L1961.4 354.5 L1962.6 359.9 L1963.8 364.7 L1965.0 366.2 L1966.1 365.2 L1967.3 365.2 L1968.3 368.3 L1969.3 368.7 L1970.3 369.1 L1971.3 371.1 L1972.3 371.3 L1973.5 372.1 L1974.6 372.8 L1975.8 372.4 L1976.9 371.9 L1978.0 370.9 L1979.2 370.9 L1980.3 370.9 L1981.4 372.4 L1982.5 372.3 L1983.6 373.1 L1984.7 372.5 L1985.8 372.6 L1986.9 374.2 L1988.0 374.8 L1989.1 374.9 L1990.2 374.6 L1991.3 374.4 L1992.4 374.0 L1993.5 372.8 L1994.6 373.1 L1995.7 372.6 L1996.8 371.7 L1997.9 371.5 L1999.0 371.8 L2000.0 371.7 L2001.0 372.5 L2002.0 373.0 L2003.0 372.0 L2004.0 372.9 L2005.0 373.0 L2006.0 372.9 L2007.5 367.3 L2008.9 362.6 L2009.9 365.7 L2010.9 368.6 L2011.9 371.6 L2013.1 371.4 L2014.2 371.0 L2015.3 369.9 L2016.5 368.2 L2017.7 367.5 L2018.8 366.8 L2019.8 368.0 L2020.8 371.9 L2021.8 375.0 L2022.8 374.9 L2023.8 375.0 L2024.8 374.5 L2025.8 374.1 L2026.8 375.4 L2027.8 374.6 L2028.8 375.7 L2029.9 376.3 L2031.0 375.3 L2032.1 375.6 L2033.2 376.9 L2034.3 376.7 L2035.4 375.8 L2036.5 375.9 L2037.6 376.2 L2038.7 377.9 L2039.8 377.8 L2040.9 376.6 L2042.0 378.1 L2043.1 378.5 L2044.2 378.0 L2045.3 377.5 L2046.4 378.0 L2047.5 377.3 L2048.6 377.1 L2049.7 378.7 L2050.8 377.7 L2051.9 377.2 L2053.0 377.6 L2054.1 376.3 L2055.2 376.8 L2056.3 376.4 L2057.4 374.9 L2058.5 374.6 L2059.6 374.4 L2060.7 373.9 L2061.8 374.3 L2062.9 373.3 L2064.0 373.3 L2065.1 372.4 L2066.2 373.7 L2067.3 372.2 L2068.4 372.1 L2069.5 372.5 L2070.6 373.2 L2071.7 372.4 L2072.8 373.5 L2073.9 372.8 L2075.0 372.9 L2076.1 373.0 L2077.2 372.1 L2078.3 373.1 L2079.4 372.7 L2080.5 372.4 L2081.6 374.1 L2082.7 373.0 L2083.8 373.7 L2084.9 374.3 L2086.0 374.1 L2087.1 373.7 L2088.2 374.2 L2089.2 375.8 L2090.2 377.1" fill="none" stroke="#FF5E00" stroke-width="3.0" stroke-linejoin="round" stroke-linecap="butt" />
<path d="M1729.0 379.5 L1730.0 378.3 L1731.0 379.0 L1732.0 378.4 L1733.0 378.4 L1734.0 379.1 L1735.0 378.6 L1736.1 378.6 L1737.1 378.8 L1738.1 379.0 L1739.1 378.2 L1740.1 378.4 L1741.1 378.1 L1742.1 378.1 L1743.1 378.3 L1744.1 377.8 L1745.1 377.9 L1746.1 377.7 L1747.1 378.4 L1748.2 378.0 L1749.2 378.2 L1750.2 378.2 L1751.2 377.0 L1752.2 377.4 L1753.2 378.0 L1754.2 377.7 L1755.2 376.5 L1756.2 376.5 L1757.2 376.9 L1758.2 376.2 L1759.2 376.4 L1760.2 376.1 L1761.3 377.0 L1762.3 377.1 L1763.3 377.2 L1764.3 375.9 L1765.3 376.8 L1766.3 376.6 L1767.3 375.7 L1768.3 376.8 L1769.3 376.9 L1770.3 375.6 L1771.3 376.7 L1772.3 375.7 L1773.4 375.8 L1774.4 376.5 L1775.4 376.2 L1776.4 375.1 L1777.4 375.4 L1778.4 375.5 L1779.4 375.1 L1780.6 373.7 L1781.8 372.7 L1783.0 372.2 L1784.1 370.3 L1785.1 370.4 L1786.2 369.5 L1787.2 368.1 L1788.3 367.9 L1789.7 366.6 L1791.0 364.6 L1791.9 349.5 L1793.7 336.6 L1795.5 318.3 L1797.3 288.1 L1799.1 283.1 L1800.9 259.9 L1801.8 237.1 L1803.6 246.3 L1805.4 268.9 L1806.7 217.4 L1808.5 220.6 L1809.9 225.0 L1810.8 237.4 L1812.6 261.7 L1813.9 271.4 L1815.3 282.6 L1816.7 275.7 L1818.0 269.6 L1818.9 299.1 L1820.7 313.5 L1822.5 318.1 L1824.3 335.7 L1825.7 337.8 L1827.0 341.9 L1828.8 350.4 L1830.2 356.1 L1831.5 360.3 L1832.7 363.7 L1833.9 364.5 L1835.1 367.9 L1836.3 368.1 L1837.5 368.8 L1838.7 370.1 L1839.7 371.2 L1840.8 370.7 L1841.8 370.9 L1842.8 372.1 L1843.8 372.2 L1844.9 372.5 L1845.9 373.1 L1846.9 373.2 L1847.9 373.7 L1848.9 374.2 L1849.9 374.5 L1850.9 375.5 L1851.9 375.1 L1852.9 375.7 L1853.9 375.5 L1854.9 376.1 L1855.9 375.6 L1856.9 376.0 L1857.9 375.6 L1858.9 376.8 L1859.9 376.5 L1860.9 376.0 L1861.9 376.5 L1862.9 377.3 L1863.9 376.0 L1864.9 377.1 L1865.9 376.6 L1866.9 376.7 L1867.9 377.3 L1868.9 376.6 L1869.9 376.8 L1870.9 377.1 L1871.9 377.6 L1872.9 376.6 L1873.9 377.5 L1874.9 377.3 L1875.9 377.2 L1876.9 376.9 L1878.0 376.8 L1879.0 376.4 L1880.0 376.5 L1881.0 376.5 L1882.0 377.6 L1883.0 376.8 L1884.0 376.7 L1885.0 376.6 L1886.0 377.9 L1887.0 378.0 L1888.0 377.7 L1889.0 377.1 L1890.0 377.1 L1891.0 377.2 L1892.0 377.5 L1893.0 377.0 L1894.0 377.5 L1895.0 377.3 L1896.0 378.4 L1897.0 378.5 L1898.0 377.8 L1899.0 377.4 L1900.0 378.5 L1901.0 377.5 L1902.0 377.6 L1903.0 377.0 L1904.0 377.6 L1905.0 377.7 L1906.0 377.8 L1907.0 377.3 L1908.0 377.8 L1909.0 377.0 L1910.0 377.4 L1911.0 377.1 L1912.0 377.6 L1913.0 377.0 L1914.0 377.0 L1915.0 377.4 L1916.0 377.3 L1917.0 377.8 L1918.0 377.7 L1919.0 378.1 L1920.0 377.9 L1921.0 378.0 L1922.0 378.3 L1923.0 377.5 L1924.0 377.4 L1925.0 378.4 L1926.0 377.1 L1927.0 378.0 L1928.0 377.9 L1929.0 376.9 L1930.0 378.2 L1931.0 378.2 L1932.0 377.8 L1933.0 378.0 L1934.0 378.1 L1935.0 377.0 L1936.0 377.6 L1937.0 377.6 L1938.0 378.1 L1939.0 378.1 L1940.0 378.1 L1941.0 377.7 L1942.0 378.2 L1943.0 377.8 L1944.0 377.8 L1945.0 377.1 L1946.0 376.8 L1947.0 376.9 L1948.0 377.3 L1949.0 376.9 L1950.0 378.0 L1951.0 377.6 L1952.0 377.6 L1953.0 377.6 L1954.0 377.6 L1955.0 377.3 L1956.0 376.5 L1957.0 377.7 L1958.0 377.6 L1959.0 377.1 L1960.0 377.2 L1961.0 377.3 L1962.0 376.3 L1963.0 377.4 L1964.0 376.5 L1965.0 376.2 L1966.0 376.5 L1967.0 377.2 L1968.0 376.3 L1969.0 377.1 L1970.0 377.5 L1971.0 376.7 L1972.0 376.4 L1973.0 376.5 L1974.0 376.8 L1975.0 376.9 L1976.0 376.7 L1977.0 376.8 L1978.0 376.0 L1979.0 376.2 L1980.0 376.4 L1981.0 377.2 L1982.0 376.6 L1983.0 377.1 L1984.0 376.3 L1985.0 376.4 L1986.0 376.8 L1987.0 377.5 L1988.0 377.6 L1989.0 377.6 L1990.0 377.1 L1991.0 377.5 L1992.0 377.5 L1993.0 377.5 L1994.0 377.0 L1995.0 378.3 L1996.0 377.3 L1997.0 378.6 L1998.0 378.6 L1999.0 377.2 L2000.0 377.9 L2001.0 378.5 L2002.0 378.7 L2003.0 377.8 L2004.0 377.5 L2005.0 377.4 L2006.0 378.6 L2007.0 377.4 L2008.0 377.9 L2009.0 377.2 L2010.0 377.8 L2011.0 378.4 L2012.0 377.1 L2013.0 378.2 L2014.0 377.7 L2015.0 378.2 L2016.0 377.9 L2017.0 377.1 L2018.0 378.2 L2019.0 377.5 L2020.0 376.7 L2021.0 376.7 L2022.0 377.4 L2023.0 377.3 L2024.0 377.1 L2025.0 376.8 L2026.0 377.1 L2027.0 377.0 L2028.0 377.8 L2029.0 376.5 L2030.0 377.7 L2031.0 377.8 L2032.0 376.6 L2033.0 377.9 L2034.0 377.5 L2035.0 377.8 L2036.0 376.8 L2037.0 376.9 L2038.0 376.9 L2039.0 377.8 L2040.0 377.1 L2041.0 376.8 L2042.0 376.9 L2043.0 376.7 L2044.0 376.4 L2045.0 376.5 L2046.0 377.7 L2047.0 376.8 L2048.0 377.9 L2049.0 376.8 L2050.0 376.9 L2051.0 377.3 L2052.0 376.8 L2053.0 377.1 L2054.0 378.1 L2055.0 378.0 L2056.0 377.9 L2057.0 377.6 L2058.0 378.1 L2059.0 378.2 L2060.0 377.6 L2061.0 377.9 L2062.0 376.8 L2063.0 378.0 L2064.0 377.6 L2065.0 378.1 L2066.0 377.9 L2067.0 377.4 L2068.0 377.0 L2069.0 378.5 L2070.0 377.2 L2071.0 377.8 L2072.0 377.6 L2073.0 377.6 L2074.0 378.3 L2075.0 378.8 L2076.0 377.6 L2077.0 378.3 L2078.0 377.8 L2079.0 378.2 L2080.0 378.0 L2081.0 377.7 L2082.0 377.7 L2083.0 377.8 L2084.0 378.9 L2085.0 378.3 L2086.0 377.9 L2087.0 379.1 L2088.0 379.2 L2089.0 378.4 L2090.0 378.5" fill="none" stroke="#666666" stroke-width="3.0" stroke-linejoin="round" stroke-linecap="butt" />
<path d="M1729.0 378.1 L1730.0 378.1 L1731.0 377.6 L1732.0 378.1 L1733.0 377.3 L1734.0 377.6 L1735.0 377.5 L1736.0 378.1 L1737.0 378.8 L1738.0 378.3 L1739.0 377.3 L1740.0 377.1 L1741.0 377.3 L1742.0 376.7 L1743.0 376.5 L1744.0 375.6 L1745.0 376.0 L1746.0 377.7 L1747.0 375.3 L1748.0 376.3 L1749.0 376.7 L1750.0 377.3 L1751.0 375.7 L1752.0 375.9 L1753.0 375.8 L1754.0 376.3 L1755.0 376.4 L1756.0 377.8 L1757.0 377.5 L1758.0 377.6 L1759.0 375.5 L1760.0 375.5 L1761.0 377.3 L1762.0 377.8 L1763.0 376.8 L1764.0 377.1 L1765.0 375.6 L1766.0 376.7 L1767.0 378.1 L1768.0 377.8 L1769.0 378.0 L1770.0 378.3 L1771.0 376.4 L1772.0 376.1 L1773.0 376.3 L1774.0 377.3 L1775.0 377.6 L1776.0 378.1 L1777.0 377.5 L1778.0 377.2 L1779.0 377.4 L1780.0 376.5 L1781.0 376.6 L1782.0 375.2 L1783.0 377.0 L1784.0 375.5 L1785.0 377.2 L1786.0 376.4 L1787.0 375.4 L1788.0 374.8 L1789.0 375.1 L1790.0 376.0 L1791.0 376.0 L1792.0 374.4 L1793.0 374.2 L1794.0 375.3 L1795.0 375.3 L1796.0 374.7 L1797.0 374.2 L1798.0 375.1 L1799.0 373.4 L1800.0 374.1 L1801.0 374.4 L1802.0 375.5 L1803.0 374.4 L1804.0 374.8 L1805.0 373.5 L1806.0 372.7 L1807.0 372.5 L1808.0 374.1 L1809.0 373.2 L1810.1 372.0 L1811.1 371.0 L1812.1 372.0 L1813.1 372.3 L1814.1 371.4 L1815.1 370.7 L1816.1 371.6 L1817.1 372.0 L1818.2 370.5 L1819.3 370.4 L1820.4 371.6 L1821.5 372.1 L1822.5 373.2 L1823.6 372.3 L1824.7 374.2 L1825.8 374.4 L1826.9 374.2 L1828.0 373.7 L1829.0 375.5 L1830.0 373.5 L1831.1 374.6 L1832.1 372.8 L1833.1 372.5 L1834.1 373.6 L1835.2 372.2 L1836.2 373.6 L1837.2 372.2 L1838.2 371.1 L1839.2 371.0 L1840.3 371.2 L1841.3 371.6 L1842.3 372.1 L1843.3 369.7 L1844.4 370.1 L1845.4 369.4 L1846.4 371.1 L1847.4 368.7 L1848.5 368.2 L1849.5 368.0 L1850.5 369.0 L1851.6 370.4 L1852.7 370.5 L1853.7 370.3 L1854.8 371.1 L1855.8 371.1 L1856.8 369.7 L1857.9 369.5 L1858.9 371.6 L1860.0 371.2 L1861.0 369.5 L1862.1 371.3 L1863.2 371.0 L1864.3 371.5 L1865.3 371.8 L1866.4 371.8 L1867.5 371.9 L1868.6 373.0 L1869.7 373.7 L1870.7 375.7 L1871.8 374.0 L1872.9 376.6 L1873.9 374.5 L1874.9 374.7 L1875.9 375.7 L1876.9 375.5 L1877.9 374.3 L1878.9 373.1 L1879.9 374.0 L1880.9 373.6 L1882.0 374.8 L1883.0 372.7 L1884.0 373.0 L1885.0 374.2 L1886.0 371.7 L1887.0 372.5 L1888.0 373.4 L1889.0 373.1 L1890.0 371.0 L1891.0 371.6 L1892.0 372.2 L1893.0 375.0 L1894.0 373.9 L1895.0 375.7 L1896.2 376.9 L1897.5 376.2 L1898.7 376.8 L1899.9 379.3 L1900.9 375.5 L1901.9 371.6 L1902.9 374.4 L1903.9 375.0 L1904.9 376.5 L1906.0 375.7 L1907.1 377.5 L1908.2 377.8 L1909.3 377.0 L1910.4 377.7 L1911.5 375.2 L1912.6 375.6 L1913.7 376.1 L1914.8 377.3 L1916.1 376.0 L1917.4 373.2 L1918.7 371.6 L1919.7 373.1 L1920.7 374.4 L1921.7 376.6 L1922.7 375.8 L1923.7 376.9 L1924.7 376.3 L1925.7 376.0 L1926.7 375.4 L1927.7 374.5 L1928.9 374.2 L1930.2 374.7 L1931.4 375.3 L1932.6 376.8 L1933.6 372.0 L1934.6 369.4 L1935.6 367.9 L1936.6 367.2 L1937.6 367.4 L1938.6 368.0 L1940.5 361.4 L1941.5 356.5 L1942.5 353.9 L1943.5 349.4 L1944.5 351.3 L1945.5 351.1 L1946.5 352.2 L1947.5 348.0 L1948.5 344.8 L1949.5 341.0 L1950.8 342.0 L1952.1 343.1 L1953.4 345.2 L1954.5 332.8 L1955.6 320.1 L1957.4 340.1 L1958.6 339.2 L1959.8 337.4 L1961.1 334.8 L1962.3 335.4 L1963.3 337.3 L1964.3 341.3 L1965.3 344.1 L1966.3 344.5 L1967.3 342.6 L1968.3 342.2 L1969.3 341.7 L1970.5 346.0 L1971.8 352.3 L1973.0 356.0 L1974.2 359.8 L1975.2 357.4 L1976.2 356.2 L1977.2 352.3 L1978.2 359.1 L1979.2 368.0 L1980.2 364.1 L1981.2 361.6 L1982.2 362.2 L1983.2 366.2 L1984.2 370.0 L1985.3 369.9 L1986.5 369.9 L1987.7 367.5 L1988.8 368.0 L1989.9 367.4 L1991.1 367.4 L1992.3 371.4 L1993.5 372.4 L1994.8 375.2 L1996.0 375.8 L1997.0 376.8 L1998.0 375.5 L1999.0 374.8 L2000.0 375.9 L2001.0 376.1 L2002.0 373.7 L2003.0 374.7 L2004.0 374.5 L2005.2 374.1 L2006.3 375.2 L2007.5 375.2 L2008.6 376.0 L2009.8 376.8 L2010.9 378.4 L2012.0 378.1 L2013.2 376.5 L2014.3 375.5 L2015.4 375.9 L2016.5 376.4 L2017.7 374.7 L2018.8 374.6 L2019.8 373.0 L2020.8 373.2 L2021.8 371.3 L2022.8 368.7 L2023.8 367.5 L2024.8 366.9 L2025.8 366.0 L2026.8 364.9 L2027.8 362.1 L2029.2 367.3 L2030.7 373.7 L2031.7 371.3 L2032.7 369.3 L2033.7 367.7 L2034.7 367.7 L2035.7 364.4 L2036.7 363.4 L2037.8 363.5 L2039.0 364.3 L2040.2 366.1 L2041.3 367.2 L2042.4 366.2 L2043.6 366.4 L2044.7 368.3 L2045.8 367.4 L2046.9 367.4 L2048.1 370.2 L2049.2 369.5 L2050.3 371.0 L2051.4 370.5 L2052.5 372.2 L2053.5 371.8 L2054.5 371.8 L2055.5 372.2 L2056.5 374.3 L2057.7 374.0 L2058.9 374.1 L2060.0 371.3 L2061.2 372.1 L2062.4 370.9 L2063.4 371.7 L2064.4 371.3 L2065.4 372.1 L2066.4 373.3 L2067.4 374.8 L2068.4 373.2 L2069.5 374.4 L2070.6 375.4 L2071.7 376.0 L2072.8 374.3 L2073.9 374.3 L2075.0 376.6 L2076.1 376.9 L2077.2 375.8 L2078.3 374.9 L2079.4 377.3 L2080.5 376.0 L2081.5 377.4 L2082.6 376.8 L2083.7 377.4 L2084.8 375.8 L2085.9 377.5 L2087.0 376.1 L2088.0 376.7 L2089.1 377.9 L2090.2 377.1" fill="none" stroke="#000" stroke-width="3.0" stroke-linejoin="round" stroke-linecap="butt" />
<line x1="1938.0" y1="151.0" x2="1845.6" y2="281.4" stroke="#000" stroke-width="2.2"/><path d="M1839.5 290.0 L1841.8 273.8 L1845.6 281.4 L1854.0 282.5 Z" fill="#000"/>
<line x1="2009.0" y1="260.0" x2="1992.4" y2="334.7" stroke="#000" stroke-width="2.2"/><path d="M1990.1 344.9 L1986.0 328.6 L1992.4 334.7 L2000.7 331.9 Z" fill="#000"/>
<text x="9.5" y="958.5" font-size="31" text-anchor="start" font-weight="bold" fill="#000" >c</text>
<text x="263.5" y="957.0" font-size="27" text-anchor="middle" font-weight="normal" fill="#000" >NEDD9 (Blood)</text>
<line x1="116.5" y1="993.5" x2="116.5" y2="1325.6" stroke="#3a3a3a" stroke-width="1.3" />
<line x1="116.5" y1="1352.4" x2="116.5" y2="1392.0" stroke="#3a3a3a" stroke-width="1.3" />
<line x1="109.0" y1="1318.2" x2="124.2" y2="1334.6" stroke="#000" stroke-width="1.3" />
<line x1="109.0" y1="1344.0" x2="124.5" y2="1360.2" stroke="#000" stroke-width="1.3" />
<line x1="105.4" y1="1392.0" x2="473.7" y2="1392.0" stroke="#3a3a3a" stroke-width="1.3" />
<line x1="106.0" y1="993.5" x2="116.5" y2="993.5" stroke="#3a3a3a" stroke-width="1.3" />
<text x="91.5" y="1003.8" font-size="27" text-anchor="end" font-weight="normal" fill="#000" >11</text>
<line x1="106.0" y1="1077.3" x2="116.5" y2="1077.3" stroke="#3a3a3a" stroke-width="1.3" />
<text x="91.5" y="1087.6" font-size="27" text-anchor="end" font-weight="normal" fill="#000" >10</text>
<line x1="106.0" y1="1160.0" x2="116.5" y2="1160.0" stroke="#3a3a3a" stroke-width="1.3" />
<text x="91.5" y="1170.3" font-size="27" text-anchor="end" font-weight="normal" fill="#000" >9</text>
<line x1="106.0" y1="1242.0" x2="116.5" y2="1242.0" stroke="#3a3a3a" stroke-width="1.3" />
<text x="91.5" y="1252.3" font-size="27" text-anchor="end" font-weight="normal" fill="#000" >8</text>
<text x="91.5" y="1332.3" font-size="27" text-anchor="end" font-weight="normal" fill="#000" >7</text>
<text x="91.5" y="1401.0" font-size="27" text-anchor="end" font-weight="normal" fill="#000" >0</text>
<line x1="175.2" y1="1392.0" x2="175.2" y2="1402.5" stroke="#3a3a3a" stroke-width="1.3" />
<text x="175.2" y="1439.0" font-size="27" text-anchor="middle" font-weight="normal" fill="#000" >0</text>
<line x1="293.7" y1="1392.0" x2="293.7" y2="1402.5" stroke="#3a3a3a" stroke-width="1.3" />
<text x="293.7" y="1439.0" font-size="27" text-anchor="middle" font-weight="normal" fill="#000" >1</text>
<line x1="412.2" y1="1392.0" x2="412.2" y2="1402.5" stroke="#3a3a3a" stroke-width="1.3" />
<text x="412.2" y="1439.0" font-size="27" text-anchor="middle" font-weight="normal" fill="#000" >2</text>
<text x="294.0" y="1488.0" font-size="27" text-anchor="middle" font-weight="normal" fill="#000" >Time points</text>
<polyline points="175.2,1026.0 293.7,1162.0 412.2,1291.0" fill="none" stroke="#000" stroke-width="4.3" stroke-linejoin="round"/>
<circle cx="175.2" cy="1026.0" r="8.2" fill="#000"/>
<circle cx="293.7" cy="1162.0" r="8.2" fill="#000"/>
<circle cx="412.2" cy="1291.0" r="8.2" fill="#000"/>
<text transform="translate(33.0,1190.5) rotate(-90)" font-size="27" text-anchor="middle">NEDD9 (ng ml<tspan font-size="18" dy="-12">−1</tspan><tspan dy="12">)</tspan></text>
<text x="511.0" y="958.5" font-size="31" text-anchor="start" font-weight="bold" fill="#000" >d</text>
<text x="827.0" y="957.0" font-size="27" text-anchor="middle" font-weight="normal" fill="#000" >ICAM-1 (Blood)</text>
<line x1="666.6" y1="993.9" x2="666.6" y2="1325.6" stroke="#3a3a3a" stroke-width="1.3" />
<line x1="666.6" y1="1352.4" x2="666.6" y2="1392.0" stroke="#3a3a3a" stroke-width="1.3" />
<line x1="657.2" y1="1319.0" x2="675.1" y2="1333.4" stroke="#000" stroke-width="1.3" />
<line x1="657.2" y1="1345.4" x2="675.4" y2="1358.6" stroke="#000" stroke-width="1.3" />
<line x1="655.6" y1="1392.0" x2="1023.8" y2="1392.0" stroke="#3a3a3a" stroke-width="1.3" />
<line x1="656.1" y1="993.9" x2="666.6" y2="993.9" stroke="#3a3a3a" stroke-width="1.3" />
<text x="643.0" y="1004.2" font-size="27" text-anchor="end" font-weight="normal" fill="#000" >1,400</text>
<line x1="656.1" y1="1083.3" x2="666.6" y2="1083.3" stroke="#3a3a3a" stroke-width="1.3" />
<text x="643.0" y="1093.6" font-size="27" text-anchor="end" font-weight="normal" fill="#000" >1,200</text>
<line x1="656.1" y1="1170.7" x2="666.6" y2="1170.7" stroke="#3a3a3a" stroke-width="1.3" />
<text x="643.0" y="1181.0" font-size="27" text-anchor="end" font-weight="normal" fill="#000" >1,000</text>
<line x1="656.1" y1="1258.6" x2="666.6" y2="1258.6" stroke="#3a3a3a" stroke-width="1.3" />
<text x="643.0" y="1268.9" font-size="27" text-anchor="end" font-weight="normal" fill="#000" >800</text>
<text x="643.0" y="1401.0" font-size="27" text-anchor="end" font-weight="normal" fill="#000" >0</text>
<line x1="725.3" y1="1392.0" x2="725.3" y2="1402.5" stroke="#3a3a3a" stroke-width="1.3" />
<text x="725.3" y="1439.0" font-size="27" text-anchor="middle" font-weight="normal" fill="#000" >0</text>
<line x1="843.8" y1="1392.0" x2="843.8" y2="1402.5" stroke="#3a3a3a" stroke-width="1.3" />
<text x="843.8" y="1439.0" font-size="27" text-anchor="middle" font-weight="normal" fill="#000" >1</text>
<line x1="962.4" y1="1392.0" x2="962.4" y2="1402.5" stroke="#3a3a3a" stroke-width="1.3" />
<text x="962.4" y="1439.0" font-size="27" text-anchor="middle" font-weight="normal" fill="#000" >2</text>
<text x="844.5" y="1488.0" font-size="27" text-anchor="middle" font-weight="normal" fill="#000" >Time points</text>
<polyline points="725.3,1003.3 843.8,1317.6 962.4,1190.8" fill="none" stroke="#000" stroke-width="4.3" stroke-linejoin="round"/>
<circle cx="725.3" cy="1003.3" r="8.2" fill="#000"/>
<circle cx="843.8" cy="1317.6" r="8.2" fill="#000"/>
<circle cx="962.4" cy="1190.8" r="8.2" fill="#000"/>
<text transform="translate(546.7,1192.5) rotate(-90)" font-size="27" text-anchor="middle">ICAM-1 (ng ml<tspan font-size="18" dy="-12">−1</tspan><tspan dy="12">)</tspan></text>
<text x="1063.0" y="958.5" font-size="31" text-anchor="start" font-weight="bold" fill="#000" >e</text>
<text x="1380.5" y="957.0" font-size="27" text-anchor="middle" font-weight="normal" fill="#000" >SAA (Blood)</text>
<line x1="1220.5" y1="993.5" x2="1220.5" y2="1325.6" stroke="#3a3a3a" stroke-width="1.3" />
<line x1="1220.5" y1="1352.4" x2="1220.5" y2="1392.0" stroke="#3a3a3a" stroke-width="1.3" />
<line x1="1212.1" y1="1318.2" x2="1228.7" y2="1334.3" stroke="#000" stroke-width="1.3" />
<line x1="1212.1" y1="1344.3" x2="1228.9" y2="1359.4" stroke="#000" stroke-width="1.3" />
<line x1="1209.4" y1="1392.0" x2="1577.6" y2="1392.0" stroke="#3a3a3a" stroke-width="1.3" />
<line x1="1210.0" y1="993.5" x2="1220.5" y2="993.5" stroke="#3a3a3a" stroke-width="1.3" />
<text x="1197.7" y="1003.8" font-size="27" text-anchor="end" font-weight="normal" fill="#000" >3,100</text>
<line x1="1210.0" y1="1104.0" x2="1220.5" y2="1104.0" stroke="#3a3a3a" stroke-width="1.3" />
<text x="1197.7" y="1114.3" font-size="27" text-anchor="end" font-weight="normal" fill="#000" >2,100</text>
<line x1="1210.0" y1="1214.0" x2="1220.5" y2="1214.0" stroke="#3a3a3a" stroke-width="1.3" />
<text x="1197.7" y="1224.3" font-size="27" text-anchor="end" font-weight="normal" fill="#000" >1,100</text>
<text x="1197.7" y="1332.3" font-size="27" text-anchor="end" font-weight="normal" fill="#000" >100</text>
<text x="1197.7" y="1401.0" font-size="27" text-anchor="end" font-weight="normal" fill="#000" >0</text>
<line x1="1279.5" y1="1392.0" x2="1279.5" y2="1402.5" stroke="#3a3a3a" stroke-width="1.3" />
<text x="1279.5" y="1439.0" font-size="27" text-anchor="middle" font-weight="normal" fill="#000" >0</text>
<line x1="1398.0" y1="1392.0" x2="1398.0" y2="1402.5" stroke="#3a3a3a" stroke-width="1.3" />
<text x="1398.0" y="1439.0" font-size="27" text-anchor="middle" font-weight="normal" fill="#000" >1</text>
<line x1="1516.5" y1="1392.0" x2="1516.5" y2="1402.5" stroke="#3a3a3a" stroke-width="1.3" />
<text x="1516.5" y="1439.0" font-size="27" text-anchor="middle" font-weight="normal" fill="#000" >2</text>
<text x="1398.0" y="1488.0" font-size="27" text-anchor="middle" font-weight="normal" fill="#000" >Time points</text>
<polyline points="1279.5,1001.7 1398.0,1320.2 1516.5,1296.6" fill="none" stroke="#000" stroke-width="4.3" stroke-linejoin="round"/>
<circle cx="1279.5" cy="1001.7" r="8.2" fill="#000"/>
<circle cx="1398.0" cy="1320.2" r="8.2" fill="#000"/>
<circle cx="1516.5" cy="1296.6" r="8.2" fill="#000"/>
<text transform="translate(1098.6,1192.4) rotate(-90)" font-size="27" text-anchor="middle">SAA (ng ml<tspan font-size="18" dy="-12">−1</tspan><tspan dy="12">)</tspan></text>
<text x="1611.0" y="958.5" font-size="31" text-anchor="start" font-weight="bold" fill="#000" >f</text>
<text x="1887.5" y="951.5" font-size="27" text-anchor="middle" font-weight="normal" fill="#000" >IFN-γ (Blood)</text>
<line x1="1727.2" y1="995.8" x2="1727.2" y2="1325.6" stroke="#3a3a3a" stroke-width="1.3" />
<line x1="1727.2" y1="1352.4" x2="1727.2" y2="1392.0" stroke="#3a3a3a" stroke-width="1.3" />
<line x1="1719.9" y1="1318.2" x2="1734.7" y2="1334.7" stroke="#000" stroke-width="1.3" />
<line x1="1719.1" y1="1344.3" x2="1735.3" y2="1359.7" stroke="#000" stroke-width="1.3" />
<line x1="1717.0" y1="1392.0" x2="2082.8" y2="1392.0" stroke="#3a3a3a" stroke-width="1.3" />
<line x1="1716.7" y1="995.8" x2="1727.2" y2="995.8" stroke="#3a3a3a" stroke-width="1.3" />
<text x="1703.3" y="1006.1" font-size="27" text-anchor="end" font-weight="normal" fill="#000" >16</text>
<line x1="1716.7" y1="1106.0" x2="1727.2" y2="1106.0" stroke="#3a3a3a" stroke-width="1.3" />
<text x="1703.3" y="1116.3" font-size="27" text-anchor="end" font-weight="normal" fill="#000" >12</text>
<line x1="1716.7" y1="1215.0" x2="1727.2" y2="1215.0" stroke="#3a3a3a" stroke-width="1.3" />
<text x="1703.3" y="1225.3" font-size="27" text-anchor="end" font-weight="normal" fill="#000" >8</text>
<text x="1703.3" y="1332.3" font-size="27" text-anchor="end" font-weight="normal" fill="#000" >4</text>
<text x="1703.3" y="1401.0" font-size="27" text-anchor="end" font-weight="normal" fill="#000" >0</text>
<line x1="1785.9" y1="1392.0" x2="1785.9" y2="1402.5" stroke="#3a3a3a" stroke-width="1.3" />
<text x="1785.9" y="1439.0" font-size="27" text-anchor="middle" font-weight="normal" fill="#000" >0</text>
<line x1="1904.0" y1="1392.0" x2="1904.0" y2="1402.5" stroke="#3a3a3a" stroke-width="1.3" />
<text x="1904.0" y="1439.0" font-size="27" text-anchor="middle" font-weight="normal" fill="#000" >1</text>
<line x1="2021.7" y1="1392.0" x2="2021.7" y2="1402.5" stroke="#3a3a3a" stroke-width="1.3" />
<text x="2021.7" y="1439.0" font-size="27" text-anchor="middle" font-weight="normal" fill="#000" >2</text>
<text x="1904.0" y="1488.0" font-size="27" text-anchor="middle" font-weight="normal" fill="#000" >Time points</text>
<polyline points="1785.9,1002.5 1904.0,1302.0 2021.7,1323.4" fill="none" stroke="#000" stroke-width="4.3" stroke-linejoin="round"/>
<circle cx="1785.9" cy="1002.5" r="8.2" fill="#000"/>
<circle cx="1904.0" cy="1302.0" r="8.2" fill="#000"/>
<circle cx="2021.7" cy="1323.4" r="8.2" fill="#000"/>
<text transform="translate(1646.1,1194.5) rotate(-90)" font-size="27" text-anchor="middle">IFN-γ (pg ml<tspan font-size="18" dy="-12">−1</tspan><tspan dy="12">)</tspan></text>
</svg>
</body></html>
